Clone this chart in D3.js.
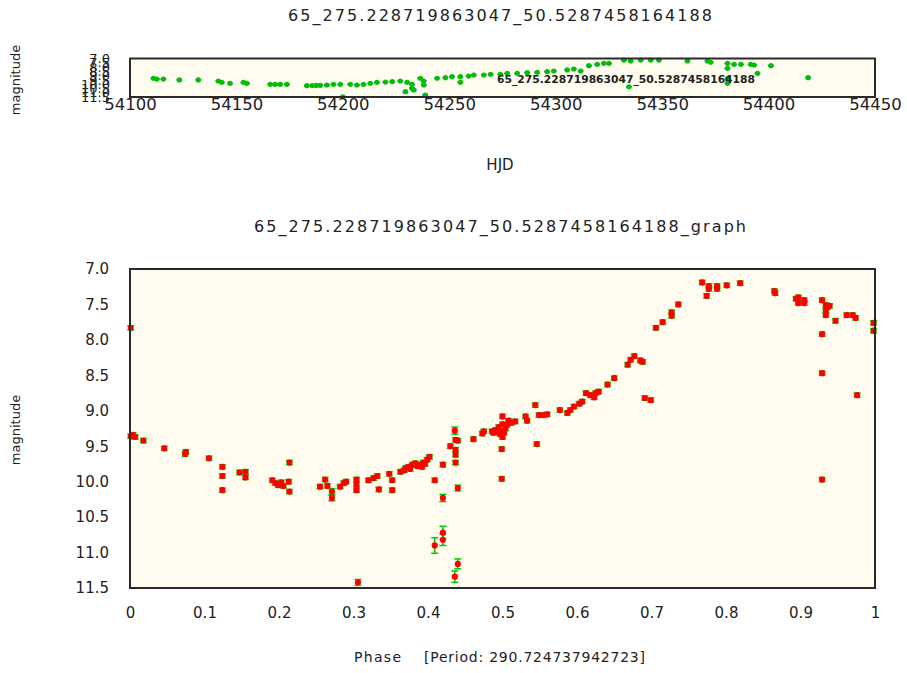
<!DOCTYPE html>
<html>
<head>
<meta charset="utf-8">
<script src="https://cdn.jsdelivr.net/npm/d3@7"></script>
<style>
  body { margin: 0; background: #ffffff; }
  text { font-family: "DejaVu Sans", sans-serif; fill: #222; }
</style>
</head>
<body>
<svg id="chart" width="907" height="673"></svg>
<script>
// ---- labels ----
const starName = "65_275.228719863047_50.5287458164188";
const periodText = "[Period: 290.724737942723]";

// ---- tick labels ----
const magTicks = [7.0, 7.5, 8.0, 8.5, 9.0, 9.5, 10.0, 10.5, 11.0, 11.5];
const hjdTicks = [54100, 54150, 54200, 54250, 54300, 54350, 54400, 54450];
const phaseTicks = [0, 0.1, 0.2, 0.3, 0.4, 0.5, 0.6, 0.7, 0.8, 0.9, 1];

// ---- light curve (time domain) ----
const topHjd = [54111.0, 54112.6, 54115.7, 54123.2, 54132.1, 54141.5, 54143.1, 54147.0, 54153.3, 54154.9,
  54165.9, 54168.2, 54170.6, 54173.7, 54183.1, 54185.6, 54187.5, 54189.4, 54192.5, 54195.6,
  54198.8, 54200.0, 54203.5, 54206.6, 54209.7, 54212.9, 54216.0, 54220.0, 54223.2, 54227.0,
  54230.2, 54229.4, 54232.5, 54232.5, 54233.3, 54236.4, 54238.0, 54238.0, 54238.7, 54244.3,
  54248.2, 54251.3, 54255.2, 54255.2, 54259.1, 54261.5, 54266.2, 54269.4, 54274.0, 54277.2,
  54281.9, 54286.6, 54291.3, 54296.0, 54299.1, 54305.4, 54308.5, 54311.7, 54315.6, 54319.5,
  54322.6, 54325.0, 54332.0, 54334.4, 54335.2, 54339.9, 54344.6, 54348.5, 54361.9, 54371.3,
  54372.8, 54380.7, 54380.7, 54380.7, 54380.7, 54383.8, 54387.0, 54391.6, 54393.2, 54394.8,
  54401.1, 54418.6];
const topMag = [9.31, 9.40, 9.40, 9.51, 9.51, 9.63, 9.78, 9.90, 9.78, 9.90,
  10.02, 10.02, 10.02, 10.02, 10.18, 10.16, 10.15, 10.14, 10.10, 10.02,
  10.02, 11.47, 10.02, 10.10, 10.02, 9.90, 9.78, 9.75, 9.70, 9.63,
  9.78, 10.88, 10.02, 10.48, 10.68, 9.31, 9.63, 10.10, 11.27, 9.31,
  9.24, 9.13, 9.13, 9.78, 9.05, 8.93, 8.93, 8.85, 8.85, 8.73,
  8.73, 8.66, 8.61, 8.54, 8.46, 8.34, 8.23, 8.46, 7.84, 7.68,
  7.56, 7.56, 7.18, 10.30, 7.29, 7.18, 7.18, 7.18, 7.29, 7.29,
  7.44, 7.56, 8.15, 9.31, 9.90, 7.68, 7.68, 7.68, 7.76, 8.73,
  7.84, 9.24];
const topErr = [0.03, 0.03, 0.03, 0.03, 0.03, 0.03, 0.03, 0.03, 0.03, 0.03,
  0.03, 0.03, 0.03, 0.03, 0.03, 0.03, 0.03, 0.03, 0.03, 0.03,
  0.03, 0.05, 0.03, 0.03, 0.03, 0.03, 0.03, 0.03, 0.03, 0.03,
  0.03, 0.10, 0.03, 0.08, 0.08, 0.05, 0.03, 0.04, 0.07, 0.03,
  0.03, 0.03, 0.03, 0.03, 0.03, 0.03, 0.03, 0.03, 0.03, 0.03,
  0.03, 0.03, 0.03, 0.03, 0.03, 0.03, 0.03, 0.03, 0.03, 0.03,
  0.03, 0.03, 0.03, 0.03, 0.03, 0.03, 0.03, 0.03, 0.03, 0.03,
  0.03, 0.03, 0.03, 0.03, 0.03, 0.03, 0.03, 0.03, 0.03, 0.03,
  0.03, 0.03];

// ---- folded light curve ----
const phaseValues = [0.001, 0.001, 0.004, 0.007, 0.018, 0.046, 0.075, 0.074, 0.106,
  0.124, 0.124, 0.124, 0.147, 0.155, 0.155,
  0.191, 0.195, 0.199, 0.203, 0.206, 0.213, 0.214, 0.214,
  0.255, 0.262, 0.265, 0.271, 0.271, 0.282, 0.287, 0.290,
  0.304, 0.304, 0.304, 0.306, 0.320, 0.327, 0.332, 0.334,
  0.348, 0.352, 0.352, 0.363, 0.368, 0.370, 0.374, 0.376, 0.379, 0.383, 0.386,
  0.390, 0.392, 0.394, 0.396, 0.399, 0.402, 0.409,
  0.420, 0.420, 0.420, 0.420, 0.409, 0.436,
  0.430, 0.437, 0.440, 0.437, 0.437, 0.437, 0.440, 0.440, 0.436,
  0.461, 0.473, 0.475, 0.486, 0.488, 0.491, 0.493, 0.495, 0.497,
  0.500, 0.500, 0.500, 0.502, 0.504, 0.500, 0.506, 0.508, 0.512, 0.517,
  0.531, 0.533, 0.544, 0.549, 0.555, 0.560, 0.499, 0.499, 0.546,
  0.577, 0.587, 0.591, 0.596, 0.603, 0.607,
  0.612, 0.618, 0.625, 0.629, 0.623, 0.641, 0.650,
  0.668, 0.672, 0.677, 0.685, 0.688, 0.691, 0.699,
  0.706, 0.715, 0.727, 0.727, 0.736,
  0.768, 0.774, 0.777, 0.777, 0.788, 0.788, 0.801, 0.819,
  0.865, 0.866, 0.894, 0.897, 0.897, 0.905, 0.905,
  0.929, 0.934, 0.936, 0.939, 0.934, 0.934, 0.929, 0.929, 0.947,
  0.962, 0.970, 0.974, 0.976, 0.998, 0.998, 0.929];
const phaseMags = [7.83, 9.36, 9.34, 9.37, 9.42, 9.53, 9.58, 9.61, 9.67,
  9.79, 9.92, 10.12, 9.87, 9.86, 9.94,
  9.98, 10.02, 10.05, 10.01, 10.06, 10.00, 9.73, 10.14,
  10.07, 9.97, 10.06, 10.14, 10.23, 10.07, 10.02, 10.00,
  9.97, 10.04, 10.12, 11.42, 9.98, 9.95, 9.92, 10.11,
  9.89, 9.98, 10.12, 9.86, 9.84, 9.81, 9.79, 9.82, 9.76, 9.74, 9.78,
  9.76, 9.79, 9.73, 9.75, 9.69, 9.65, 9.98,
  9.76, 10.23, 10.72, 10.82, 10.90, 9.28,
  9.50, 9.41, 9.42, 9.55, 9.62, 9.73, 10.09, 11.16, 11.34,
  9.40, 9.32, 9.29, 9.29, 9.31, 9.27, 9.30, 9.23, 9.33,
  9.08, 9.19, 9.29, 9.31, 9.25, 9.37, 9.20, 9.14, 9.17, 9.15,
  9.08, 9.14, 8.92, 9.06, 9.06, 9.05, 9.54, 9.96, 9.47,
  8.99, 9.03, 8.99, 8.94, 8.90, 8.87,
  8.75, 8.78, 8.75, 8.73, 8.81, 8.63, 8.54,
  8.35, 8.28, 8.23, 8.29, 8.31, 8.82, 8.85,
  7.83, 7.75, 7.61, 7.66, 7.50,
  7.19, 7.38, 7.24, 7.28, 7.24, 7.28, 7.23, 7.20,
  7.31, 7.34, 7.42, 7.40, 7.48, 7.44, 7.48,
  7.44, 7.51, 7.54, 7.52, 7.59, 7.65, 7.92, 8.47, 7.73,
  7.65, 7.65, 7.69, 8.78, 7.76, 7.87, 9.97];
const phaseErrs = [0.03, 0.03, 0.03, 0.03, 0.03, 0.03, 0.03, 0.03, 0.03,
  0.03, 0.03, 0.03, 0.03, 0.03, 0.03,
  0.03, 0.03, 0.03, 0.03, 0.03, 0.03, 0.03, 0.03,
  0.03, 0.03, 0.03, 0.04, 0.04, 0.03, 0.03, 0.03,
  0.03, 0.03, 0.03, 0.04, 0.03, 0.03, 0.03, 0.03,
  0.03, 0.03, 0.03, 0.03, 0.03, 0.03, 0.03, 0.03, 0.03, 0.03, 0.03,
  0.03, 0.03, 0.03, 0.03, 0.03, 0.03, 0.03,
  0.03, 0.05, 0.09, 0.08, 0.11, 0.05,
  0.03, 0.03, 0.03, 0.03, 0.03, 0.03, 0.04, 0.07, 0.08,
  0.03, 0.03, 0.03, 0.03, 0.03, 0.03, 0.03, 0.03, 0.03,
  0.03, 0.03, 0.03, 0.03, 0.03, 0.03, 0.03, 0.03, 0.03, 0.03,
  0.03, 0.03, 0.03, 0.03, 0.03, 0.03, 0.03, 0.03, 0.03,
  0.03, 0.03, 0.03, 0.03, 0.03, 0.03,
  0.03, 0.03, 0.03, 0.03, 0.03, 0.03, 0.03,
  0.03, 0.03, 0.03, 0.03, 0.03, 0.03, 0.03,
  0.03, 0.03, 0.03, 0.03, 0.03,
  0.03, 0.03, 0.03, 0.03, 0.03, 0.03, 0.03, 0.03,
  0.03, 0.03, 0.03, 0.03, 0.03, 0.03, 0.03,
  0.03, 0.03, 0.03, 0.03, 0.03, 0.03, 0.03, 0.03, 0.03,
  0.03, 0.03, 0.03, 0.03, 0.03, 0.03, 0.03];

// ---- layout ----
const svg = d3.select("#chart");
const plotBg = "#fffcef";
const frame = "#2a2a2a";

const topBox = { left: 130, right: 875, top: 58.5, bottom: 97 };
const botBox = { left: 130, right: 875, top: 269, bottom: 588 };

const xTop = d3.scaleLinear().domain([54100, 54450]).range([topBox.left, topBox.right]);
const yTop = d3.scaleLinear().domain([7.0, 11.5]).range([topBox.top, topBox.bottom]);
const xBot = d3.scaleLinear().domain([0, 1]).range([botBox.left, botBox.right]);
const yBot = d3.scaleLinear().domain([7.0, 11.5]).range([botBox.top, botBox.bottom]);

function drawBox(b) {
  svg.append("rect")
    .attr("x", b.left).attr("y", b.top)
    .attr("width", b.right - b.left).attr("height", b.bottom - b.top)
    .attr("fill", plotBg);
}
function drawFrame(b) {
  svg.append("rect")
    .attr("x", b.left).attr("y", b.top)
    .attr("width", b.right - b.left).attr("height", b.bottom - b.top)
    .attr("fill", "none").attr("stroke", frame).attr("stroke-width", 2);
}

function errorBars(g, xs, ys, es, x, y, color, cap, width) {
  const idx = d3.range(xs.length);
  const eb = g.append("g").attr("stroke", color).attr("stroke-width", width).attr("fill", "none");
  eb.selectAll("line.v").data(idx).join("line").attr("class", "v")
    .attr("x1", i => x(xs[i])).attr("x2", i => x(xs[i]))
    .attr("y1", i => y(ys[i] - es[i])).attr("y2", i => y(ys[i] + es[i]));
  eb.selectAll("line.t").data(idx).join("line").attr("class", "t")
    .attr("x1", i => x(xs[i]) - cap).attr("x2", i => x(xs[i]) + cap)
    .attr("y1", i => y(ys[i] - es[i])).attr("y2", i => y(ys[i] - es[i]));
  eb.selectAll("line.b").data(idx).join("line").attr("class", "b")
    .attr("x1", i => x(xs[i]) - cap).attr("x2", i => x(xs[i]) + cap)
    .attr("y1", i => y(ys[i] + es[i])).attr("y2", i => y(ys[i] + es[i]));
}

// ---- titles ----
svg.append("text").attr("x", 288).attr("y", 21)
  .attr("font-size", 16).attr("textLength", 424).attr("lengthAdjust", "spacing").text(starName);
svg.append("text").attr("x", 254).attr("y", 232)
  .attr("font-size", 16).attr("textLength", 492).attr("lengthAdjust", "spacing").text(starName + "_graph");

// ---- top panel: magnitude vs HJD ----
drawBox(topBox);
svg.append("clipPath").attr("id", "topclip").append("rect")
  .attr("x", topBox.left - 4).attr("y", topBox.top - 2)
  .attr("width", topBox.right - topBox.left + 8).attr("height", topBox.bottom - topBox.top + 4);
const gTop = svg.append("g").attr("clip-path", "url(#topclip)");
errorBars(gTop, topHjd, topMag, topErr, xTop, yTop, "#1f5cff", 2.8, 1.2);
gTop.selectAll("circle").data(d3.range(topHjd.length)).join("circle")
  .attr("cx", i => xTop(topHjd[i])).attr("cy", i => yTop(topMag[i]))
  .attr("r", 2.6).attr("fill", "#00c000");
svg.append("text").attr("x", 497).attr("y", 83).attr("font-size", 10.5)
  .attr("font-weight", "bold").attr("textLength", 258).attr("lengthAdjust", "spacingAndGlyphs")
  .text(starName);
drawFrame(topBox);

const axTopX = svg.append("g").attr("transform", `translate(0,${topBox.bottom})`)
  .call(d3.axisBottom(xTop).tickValues(hjdTicks).tickSize(0).tickPadding(1).tickFormat(d3.format("d")));
const axTopY = svg.append("g").attr("transform", `translate(${topBox.left},0)`)
  .call(d3.axisLeft(yTop).tickValues(magTicks).tickSize(0).tickPadding(20).tickFormat(d3.format(".1f")));
[axTopX, axTopY].forEach(a => {
  a.select(".domain").remove();
  a.selectAll("text").attr("fill", "#222").attr("font-family", "DejaVu Sans, sans-serif");
});
axTopX.selectAll("text").attr("font-size", 16.5);
axTopY.selectAll("text").attr("font-size", 13);

svg.append("text").attr("x", 500).attr("y", 170).attr("text-anchor", "middle")
  .attr("font-size", 15).text("HJD");
svg.append("text").attr("transform", "translate(20,80) rotate(-90)").attr("text-anchor", "middle")
  .attr("font-size", 13).text("magnitude");

// ---- bottom panel: folded curve ----
drawBox(botBox);
const gBot = svg.append("g");
errorBars(gBot, phaseValues, phaseMags, phaseErrs, xBot, yBot, "#00c800", 3.5, 1.5);
gBot.selectAll("circle").data(d3.range(phaseValues.length)).join("circle")
  .attr("cx", i => xBot(phaseValues[i])).attr("cy", i => yBot(phaseMags[i]))
  .attr("r", 3.1).attr("fill", "#ff0000");
drawFrame(botBox);

const axBotX = svg.append("g").attr("transform", `translate(0,${botBox.bottom})`)
  .call(d3.axisBottom(xBot).tickValues(phaseTicks).tickSize(0).tickPadding(19).tickFormat(d3.format("~g")));
const axBotY = svg.append("g").attr("transform", `translate(${botBox.left},0)`)
  .call(d3.axisLeft(yBot).tickValues(magTicks).tickSize(0).tickPadding(21).tickFormat(d3.format(".1f")));
[axBotX, axBotY].forEach(a => {
  a.select(".domain").remove();
  a.selectAll("text").attr("font-size", 15).attr("fill", "#222")
    .attr("font-family", "DejaVu Sans, sans-serif");
});

svg.append("text").attr("x", 354).attr("y", 662)
  .attr("font-size", 14).attr("textLength", 47).attr("lengthAdjust", "spacing").text("Phase");
svg.append("text").attr("x", 424).attr("y", 662)
  .attr("font-size", 14).attr("textLength", 221).attr("lengthAdjust", "spacing").text(periodText);
svg.append("text").attr("transform", "translate(20,430) rotate(-90)").attr("text-anchor", "middle")
  .attr("font-size", 13).text("magnitude");
</script>
</body>
</html>
